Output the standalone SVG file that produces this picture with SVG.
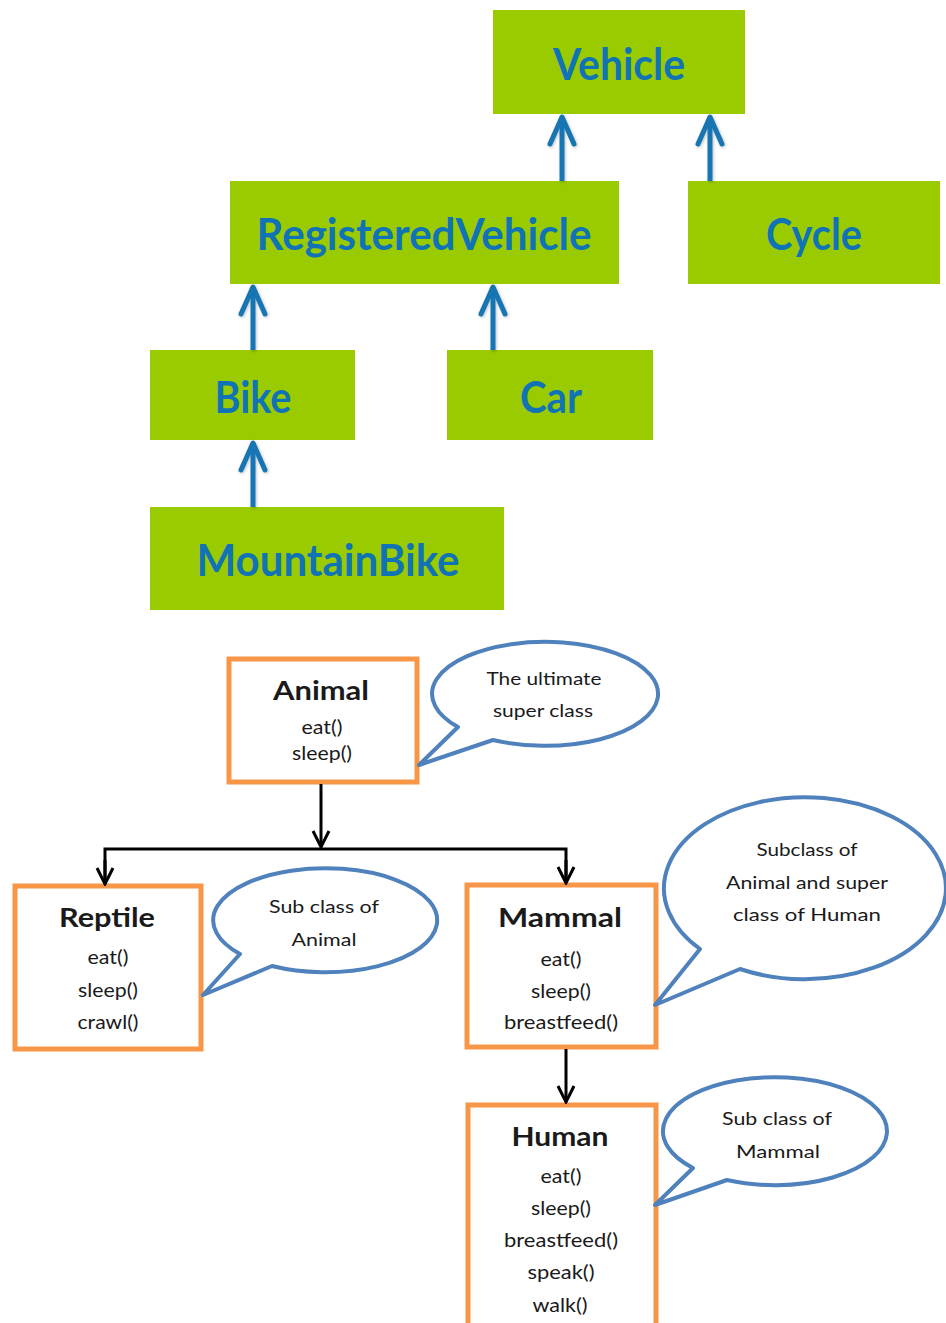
<svg xmlns="http://www.w3.org/2000/svg" width="946" height="1323" viewBox="0 0 946 1323">
  <style>
    .gbox { fill: #99CB00; }
    .gtxt { font-family: Lato, "Open Sans", sans-serif; font-weight: 700; font-size: 44px; fill: #0F73B6; text-anchor: middle; }
    .obox { fill: #FFFFFF; stroke: #F79646; stroke-width: 5; }
    .title { font-family: Lato, "Open Sans", sans-serif; font-weight: 700; font-size: 26px; fill: #1A1A1A; text-anchor: middle; }
    .meth { font-family: Lato, "Open Sans", sans-serif; font-size: 19px; fill: #1A1A1A; text-anchor: middle; }
    .bub { fill: #FFFFFF; stroke: #4F81BD; stroke-width: 4; stroke-linejoin: round; }
    .btxt { font-family: Lato, "Open Sans", sans-serif; font-size: 18px; fill: #1A1A1A; text-anchor: middle; }
    .blink { stroke: #1574B2; stroke-width: 5; fill: none; }
    .klink { stroke: #000000; stroke-width: 3; fill: none; }
  </style>
  <defs>
    <marker id="blueHead" markerUnits="userSpaceOnUse" viewBox="-32 -16 36 32" markerWidth="36" markerHeight="32" refX="0" refY="0" orient="auto">
      <path d="M -27 -12 L 0 0 L -27 12" fill="none" stroke="#1574B2" stroke-width="5" stroke-linecap="round" stroke-linejoin="round"/>
    </marker>
    <marker id="blackHead" markerUnits="userSpaceOnUse" viewBox="-20 -11 22 22" markerWidth="22" markerHeight="22" refX="0" refY="0" orient="auto">
      <path d="M -16 -8 L 0 0 L -16 8" fill="none" stroke="#000000" stroke-width="3" stroke-linejoin="miter"/>
    </marker>
    <filter id="soft" x="-50%" y="-20%" width="200%" height="140%">
      <feDropShadow dx="1" dy="1" stdDeviation="1.5" flood-color="#000000" flood-opacity="0.25"/>
    </filter>
  </defs>

  <!-- vehicle hierarchy -->
  <g id="vehicle">
    <rect class="gbox" x="493" y="10" width="252" height="104"/>
    <text class="gtxt" x="619" y="80" textLength="132" lengthAdjust="spacingAndGlyphs">Vehicle</text>
  </g>
  <g id="registered-vehicle">
    <rect class="gbox" x="230" y="181" width="389" height="103"/>
    <text class="gtxt" x="424" y="250" textLength="335" lengthAdjust="spacingAndGlyphs">RegisteredVehicle</text>
  </g>
  <g id="cycle">
    <rect class="gbox" x="688" y="181" width="252" height="103"/>
    <text class="gtxt" x="814" y="250" textLength="96" lengthAdjust="spacingAndGlyphs">Cycle</text>
  </g>
  <g id="bike">
    <rect class="gbox" x="150" y="350" width="205" height="90"/>
    <text class="gtxt" x="253" y="413" textLength="77" lengthAdjust="spacingAndGlyphs">Bike</text>
  </g>
  <g id="car">
    <rect class="gbox" x="447" y="350" width="206" height="90"/>
    <text class="gtxt" x="551" y="413" textLength="62" lengthAdjust="spacingAndGlyphs">Car</text>
  </g>
  <g id="mountain-bike">
    <rect class="gbox" x="150" y="507" width="354" height="103"/>
    <text class="gtxt" x="328" y="576" textLength="263" lengthAdjust="spacingAndGlyphs">MountainBike</text>
  </g>

  <!-- animal hierarchy -->
  <g id="animal">
    <rect class="obox" x="229" y="659" width="188" height="123"/>
    <text class="title" x="321" y="700" textLength="96" lengthAdjust="spacingAndGlyphs">Animal</text>
    <text class="meth" x="322" y="734" textLength="41" lengthAdjust="spacingAndGlyphs">eat()</text>
    <text class="meth" x="322" y="760" textLength="60" lengthAdjust="spacingAndGlyphs">sleep()</text>
  </g>
  <g id="reptile">
    <rect class="obox" x="15" y="886" width="186" height="163"/>
    <text class="title" x="107" y="927" textLength="96" lengthAdjust="spacingAndGlyphs">Reptile</text>
    <text class="meth" x="108" y="964" textLength="41" lengthAdjust="spacingAndGlyphs">eat()</text>
    <text class="meth" x="108" y="997" textLength="60" lengthAdjust="spacingAndGlyphs">sleep()</text>
    <text class="meth" x="108" y="1029" textLength="61" lengthAdjust="spacingAndGlyphs">crawl()</text>
  </g>
  <g id="mammal">
    <rect class="obox" x="467" y="885" width="189" height="162"/>
    <text class="title" x="560" y="927" textLength="124" lengthAdjust="spacingAndGlyphs">Mammal</text>
    <text class="meth" x="561" y="966" textLength="41" lengthAdjust="spacingAndGlyphs">eat()</text>
    <text class="meth" x="561" y="998" textLength="60" lengthAdjust="spacingAndGlyphs">sleep()</text>
    <text class="meth" x="561" y="1029" textLength="114" lengthAdjust="spacingAndGlyphs">breastfeed()</text>
  </g>
  <g id="human">
    <rect class="obox" x="468" y="1105" width="188" height="230"/>
    <text class="title" x="560" y="1146" textLength="97" lengthAdjust="spacingAndGlyphs">Human</text>
    <text class="meth" x="561" y="1183" textLength="41" lengthAdjust="spacingAndGlyphs">eat()</text>
    <text class="meth" x="561" y="1215" textLength="60" lengthAdjust="spacingAndGlyphs">sleep()</text>
    <text class="meth" x="561" y="1247" textLength="114" lengthAdjust="spacingAndGlyphs">breastfeed()</text>
    <text class="meth" x="561" y="1279" textLength="67" lengthAdjust="spacingAndGlyphs">speak()</text>
    <text class="meth" x="560" y="1312" textLength="55" lengthAdjust="spacingAndGlyphs">walk()</text>
  </g>

  <!-- speech bubbles -->
  <g id="note-animal">
    <path class="bub" d="M 493 740 A 113 52 0 1 0 458 727 L 419 765 Z"/>
    <text class="btxt" x="544" y="685" textLength="115" lengthAdjust="spacingAndGlyphs">The ultimate</text>
    <text class="btxt" x="543" y="717" textLength="100" lengthAdjust="spacingAndGlyphs">super class</text>
  </g>
  <g id="note-reptile">
    <path class="bub" d="M 272 966 A 112 52 0 1 0 240 954 L 203 995 Z"/>
    <text class="btxt" x="324" y="913" textLength="110" lengthAdjust="spacingAndGlyphs">Sub class of</text>
    <text class="btxt" x="324" y="946" textLength="65" lengthAdjust="spacingAndGlyphs">Animal</text>
  </g>
  <g id="note-mammal">
    <path class="bub" d="M 740 969 A 141 91 0 1 0 700 949 L 655 1005 Z"/>
    <text class="btxt" x="807" y="856" textLength="101" lengthAdjust="spacingAndGlyphs">Subclass of</text>
    <text class="btxt" x="807" y="889" textLength="162" lengthAdjust="spacingAndGlyphs">Animal and super</text>
    <text class="btxt" x="807" y="921" textLength="148" lengthAdjust="spacingAndGlyphs">class of Human</text>
  </g>
  <g id="note-human">
    <path class="bub" d="M 727 1180 A 112 54 0 1 0 693 1168 L 655 1205 Z"/>
    <text class="btxt" x="777" y="1125" textLength="110" lengthAdjust="spacingAndGlyphs">Sub class of</text>
    <text class="btxt" x="778" y="1158" textLength="84" lengthAdjust="spacingAndGlyphs">Mammal</text>
  </g>

  <!-- connectors -->
  <g id="connectors">
    <g filter="url(#soft)">
      <line class="blink" x1="562" y1="181" x2="562" y2="117" marker-end="url(#blueHead)"/>
      <line class="blink" x1="710" y1="181" x2="710" y2="117" marker-end="url(#blueHead)"/>
      <line class="blink" x1="253" y1="350" x2="253" y2="287" marker-end="url(#blueHead)"/>
      <line class="blink" x1="493" y1="350" x2="493" y2="287" marker-end="url(#blueHead)"/>
      <line class="blink" x1="253" y1="507" x2="253" y2="443" marker-end="url(#blueHead)"/>
    </g>
    <line class="klink" x1="321" y1="784" x2="321" y2="847" marker-end="url(#blackHead)"/>
    <polyline class="klink" points="105,882 105,849 566,849 566,881"/>
    <line class="klink" x1="105" y1="860" x2="105" y2="884" marker-end="url(#blackHead)"/>
    <line class="klink" x1="566" y1="860" x2="566" y2="883" marker-end="url(#blackHead)"/>
    <line class="klink" x1="566" y1="1049" x2="566" y2="1102" marker-end="url(#blackHead)"/>
  </g>
</svg>
